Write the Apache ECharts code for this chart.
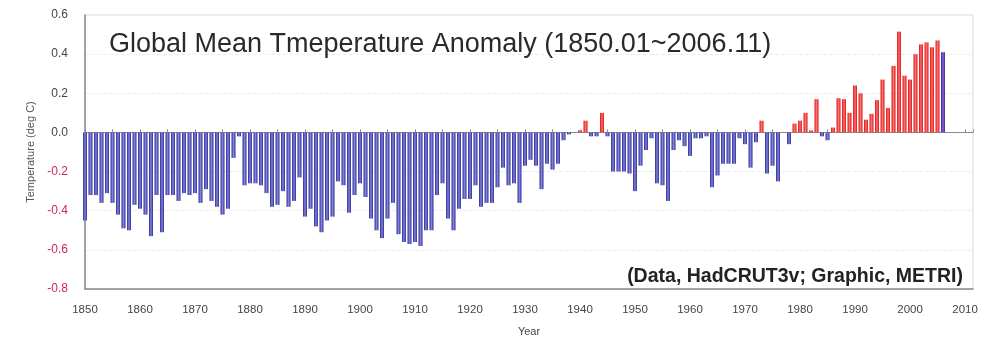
<!DOCTYPE html>
<html>
<head>
<meta charset="utf-8">
<script src="https://cdn.jsdelivr.net/npm/echarts@6/dist/echarts.min.js"></script>
<style>
html,body{margin:0;padding:0;background:#fff;}
#chart{width:998px;height:342px;}
</style>
</head>
<body>
<div id="chart"></div>
<script>
// ---- data ----
const startYear = 1850;
const partialYear = 2006;
const anom1850s = [-0.45, -0.32, -0.32, -0.36, -0.31, -0.36, -0.42, -0.49, -0.50, -0.37];
const anom1860s = [-0.39, -0.42, -0.53, -0.32, -0.51, -0.32, -0.32, -0.35, -0.31, -0.32];
const anom1870s = [-0.31, -0.36, -0.29, -0.35, -0.38, -0.42, -0.39, -0.13, -0.02, -0.27];
const anom1880s = [-0.26, -0.26, -0.27, -0.31, -0.38, -0.37, -0.30, -0.38, -0.35, -0.23];
const anom1890s = [-0.43, -0.39, -0.48, -0.51, -0.45, -0.43, -0.25, -0.27, -0.41, -0.32];
const anom1900s = [-0.26, -0.33, -0.44, -0.50, -0.54, -0.44, -0.36, -0.52, -0.56, -0.57];
const anom1910s = [-0.56, -0.58, -0.50, -0.50, -0.32, -0.26, -0.44, -0.50, -0.39, -0.34];
const anom1920s = [-0.34, -0.27, -0.38, -0.36, -0.36, -0.28, -0.18, -0.27, -0.26, -0.36];
const anom1930s = [-0.17, -0.14, -0.17, -0.29, -0.16, -0.19, -0.16, -0.04, -0.01, 0.00];
const anom1940s = [0.01, 0.06, -0.02, -0.02, 0.10, -0.02, -0.20, -0.20, -0.20, -0.21];
const anom1950s = [-0.30, -0.17, -0.09, -0.03, -0.26, -0.27, -0.35, -0.09, -0.04, -0.07];
const anom1960s = [-0.12, -0.03, -0.03, -0.02, -0.28, -0.22, -0.16, -0.16, -0.16, -0.03];
const anom1970s = [-0.06, -0.18, -0.05, 0.06, -0.21, -0.17, -0.25, 0.00, -0.06, 0.045];
const anom1980s = [0.06, 0.10, 0.01, 0.17, -0.02, -0.04, 0.025, 0.175, 0.17, 0.10];
const anom1990s = [0.24, 0.20, 0.065, 0.095, 0.165, 0.27, 0.125, 0.34, 0.515, 0.29];
const anom2000s = [0.27, 0.40, 0.45, 0.46, 0.435, 0.47, 0.41];

const yTicks = [-0.8, -0.6, -0.4, -0.2, 0.0, 0.2, 0.4, 0.6];
const xTickStep = 10;
const titleText = 'Global Mean Tmeperature Anomaly (1850.01~2006.11)';
const noteText = '(Data, HadCRUT3v; Graphic, METRI)';

const anomalies = [].concat(anom1850s, anom1860s, anom1870s, anom1880s, anom1890s,
  anom1900s, anom1910s, anom1920s, anom1930s, anom1940s, anom1950s, anom1960s,
  anom1970s, anom1980s, anom1990s, anom2000s);

function grad(dark, light) {
  return new echarts.graphic.LinearGradient(0, 0, 1, 0, [
    {offset: 0, color: dark}, {offset: 0.5, color: light}, {offset: 1, color: dark}
  ]);
}
const blueGrad = grad('#2c2c98', '#8282da');
const redGrad = grad('#d81414', '#ff7070');
const purpleGrad = grad('#40209a', '#8466d4');

const barData = anomalies.map((v, i) => {
  const yr = startYear + i;
  let c = v >= 0 ? redGrad : blueGrad;
  if (yr === partialYear) c = purpleGrad;
  return {value: [yr, v], itemStyle: {color: c}};
});

const chart = echarts.init(document.getElementById('chart'), null, {renderer: 'canvas'});
const FONT = 'Arial, "Liberation Sans", sans-serif';

chart.setOption({
  animation: false,
  backgroundColor: '#ffffff',
  grid: {left: 85, right: 25, top: 15, bottom: 52, show: true, borderColor: '#d8d8d8', borderWidth: 1},
  title: {
    text: titleText, left: 104, top: 26,
    textStyle: {fontFamily: FONT, fontSize: 27, fontWeight: 'normal', color: '#2a2a2a'}
  },
  graphic: [{
    type: 'text', right: 35, top: 267,
    style: {text: noteText, font: 'bold 19.5px ' + FONT, fill: '#222'}
  }],
  xAxis: [{
    type: 'value', min: 1850, max: 2011.45, interval: xTickStep,
    position: 'bottom',
    name: 'Year', nameLocation: 'middle', nameGap: 37,
    nameTextStyle: {fontFamily: FONT, fontSize: 11, color: '#444'},
    axisLine: {onZero: false, lineStyle: {color: '#8a8a8a', width: 1.5}},
    axisTick: {show: false},
    axisLabel: {fontFamily: FONT, fontSize: 11.5, color: '#444', margin: 15, showMaxLabel: false,
      formatter: v => (v % 10 === 0 ? String(v) : '')},
    splitLine: {show: false}
  }, {
    type: 'value', min: 1850, max: 2011.45, interval: 5,
    position: 'top',
    axisLine: {onZero: true, lineStyle: {color: '#8a8a8a', width: 1}},
    axisTick: {show: true, length: 3, inside: false, lineStyle: {color: '#8a8a8a'}},
    axisLabel: {show: false},
    splitLine: {show: false}
  }],
  yAxis: {
    type: 'value', min: -0.8, max: 0.6, interval: 0.2,
    name: 'Temperature (deg C)', nameLocation: 'middle', nameGap: 49, nameRotate: 90,
    nameTextStyle: {fontFamily: FONT, fontSize: 11, color: '#555'},
    axisLine: {show: true, lineStyle: {color: '#8a8a8a', width: 1.5}},
    axisTick: {show: false},
    axisLabel: {fontFamily: FONT, fontSize: 12, margin: 17,
      formatter: v => (Math.abs(v) < 1e-9 ? 0 : v).toFixed(1),
      color: v => (v < -1e-9 ? '#d0245a' : '#444')},
    splitLine: {show: true, lineStyle: {color: '#ececec', type: 'dashed', width: 1}}
  },
  series: [{
    type: 'bar', xAxisIndex: 0, yAxisIndex: 0,
    barWidth: 4,
    data: barData
  }]
});
</script>
</body>
</html>
